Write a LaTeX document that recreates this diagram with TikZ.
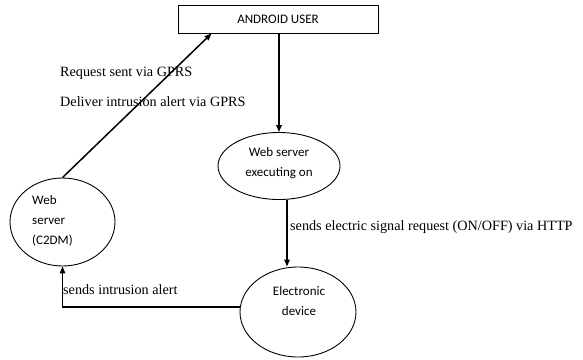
\documentclass[tikz,border=0pt]{standalone}
\usepackage{fontspec}
\setmainfont{Liberation Serif}
\newfontfamily\calfont{Carlito}
\usetikzlibrary{shapes.geometric,arrows.meta,calc}
\begin{document}
\begin{tikzpicture}[x=1pt,y=-1pt,
  arr/.style={line width=1.5pt,-{Triangle[length=7pt,width=5.5pt]}},
  elps/.style={draw,ellipse,line width=0.9pt,inner sep=0pt},
  sanst/.style={font=\calfont\fontsize{13}{20}\selectfont,align=center,inner sep=0pt},
  seriflbl/.style={font=\fontsize{14.2}{16}\selectfont,inner sep=0pt,anchor=west}]
\useasboundingbox (0,0) rectangle (583,359);
\node[draw,line width=1pt,minimum width=200pt,minimum height=28pt,inner sep=0pt,
  font=\calfont\fontsize{13}{15}\selectfont] (user) at (278,19) {ANDROID USER};
\node[elps,minimum width=122pt,minimum height=67pt] (exec) at (279,166) {};
\node[sanst] (exectxt) at (279,163) {Web server\\executing on};
\node[elps,minimum width=116pt,minimum height=90pt] (elec) at (298,312) {};
\node[sanst] (electxt) at (299,301) {Electronic\\device};
\node[elps,minimum width=105pt,minimum height=88pt] (c2dm) at (62.5,222) {};
\node[sanst,align=left,anchor=west] (c2dmtxt) at (32,221) {Web\\server\\(C2DM)};
\node[seriflbl] (l1) at (60,73) {Request sent via GPRS};
\node[seriflbl] (l2) at (60,102) {Deliver intrusion alert via GPRS};
\node[seriflbl] (l3) at (290,227) {sends electric signal request (ON/OFF) via HTTP};
\node[seriflbl] (l4) at (63,290) {sends intrusion alert};
\draw[arr] (user.south -| exec.north) -- (exec.north);
\draw[arr] ([xshift=8pt]exec.south) -- ([xshift=8pt]exec.south |- elec.north);
\draw[arr] ([yshift=5pt]elec.west) -| (c2dm.south);
\draw[arr] (c2dm.north) -- ([xshift=34pt]user.south west);
\end{tikzpicture}
\end{document}
